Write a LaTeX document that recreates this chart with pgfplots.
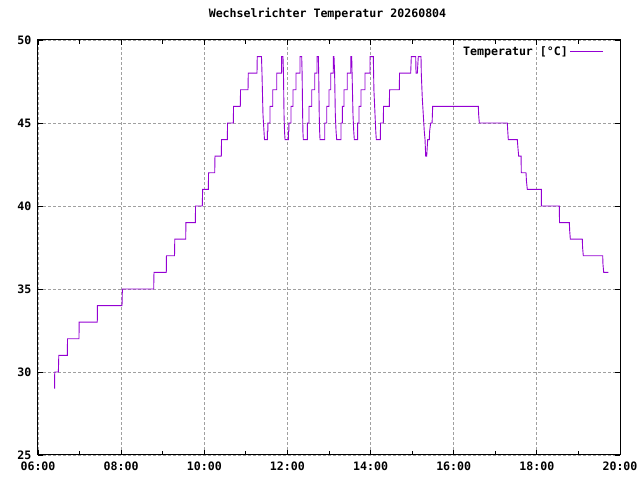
\documentclass[border=0pt]{standalone}
\usepackage{pgfplots}
\pgfplotsset{compat=1.18}
\usepackage{pgfplotstable}
\usepackage{fontspec}
\setmainfont{DejaVu Sans Mono}
\definecolor{gpviolet}{RGB}{148,0,211}
\definecolor{gpgrid}{RGB}{160,160,160}
\pgfplotstableread{
t v
6.400 29
6.402 30
6.490 30
6.500 31
6.705 31
6.710 32
6.986 32
6.990 33
7.426 33
7.430 34
8.021 34
8.030 35
8.783 35
8.790 36
9.086 36
9.090 37
9.284 37
9.290 38
9.553 38
9.558 39
9.784 39
9.790 40
9.952 40
9.960 41
10.097 41
10.103 42
10.251 42
10.257 43
10.409 43
10.415 44
10.554 44
10.560 45
10.698 45
10.704 46
10.866 46
10.872 47
11.052 47
11.058 48
11.268 48
11.274 49
11.376 49
11.388 48
11.412 45.5
11.448 44
11.516 44
11.516 44.5
11.530 44.5
11.530 45
11.581 45
11.581 46
11.646 46
11.646 47
11.742 47
11.742 48
11.862 48
11.862 49
11.893 49
11.905 48
11.918 45.5
11.930 44.5
11.942 44
12.021 44
12.021 44.5
12.035 44.5
12.035 45
12.086 45
12.086 46
12.134 46
12.134 47
12.206 47
12.206 48
12.302 48
12.302 49
12.343 49
12.353 48
12.363 46
12.372 44.5
12.382 44
12.478 44
12.478 45
12.519 45
12.519 46
12.584 46
12.584 47
12.656 47
12.656 48
12.711 48
12.711 49
12.743 49
12.752 48
12.765 45.5
12.775 44.5
12.784 44
12.897 44
12.897 45
12.945 45
12.945 46
13.000 46
13.000 47
13.041 47
13.041 48
13.103 48
13.103 49
13.120 49
13.135 48
13.152 45.5
13.170 44.5
13.185 44
13.289 44
13.289 45
13.320 45
13.320 46
13.361 46
13.361 47
13.440 47
13.440 48
13.522 48
13.522 49
13.546 49
13.555 48
13.577 45.5
13.595 44.5
13.609 44
13.690 44
13.690 45
13.722 45
13.722 46
13.770 46
13.770 47
13.866 47
13.866 48
13.986 48
13.986 49
14.066 49
14.080 47
14.107 45.5
14.125 44.5
14.138 44
14.234 44
14.240 45
14.306 45
14.312 46
14.451 46
14.457 47
14.691 47
14.697 48
14.965 48
14.980 49
15.086 49
15.093 48
15.124 48
15.148 49
15.213 49
15.220 48
15.244 46.5
15.268 45.5
15.292 44.5
15.310 44
15.326 43
15.350 43
15.362 43.5
15.374 44
15.413 44
15.420 44.5
15.446 45
15.480 45
15.494 46
16.592 46
16.600 45.5
16.616 45
17.289 45
17.300 44.5
17.313 44
17.530 44
17.545 43.5
17.563 43
17.620 43
17.626 42
17.739 42
17.750 41.5
17.770 41
18.107 41
18.110 40
18.540 40
18.545 39
18.781 39
18.790 38.5
18.805 38
19.093 38
19.100 37.5
19.117 37
19.584 37
19.590 36.5
19.608 36
19.719 36
}\tempdata
\begin{document}
\begin{tikzpicture}
\begin{axis}[
  name=ax,
  scale only axis, width=582pt, height=415pt,
  xmin=6, xmax=20, ymin=25, ymax=50,
  xtick={6,8,10,12,14,16,18,20},
  xticklabels={06:00,08:00,10:00,12:00,14:00,16:00,18:00,20:00},
  minor xtick={7,9,11,13,15,17,19},
  ytick={25,30,35,40,45,50},
  /pgf/number format/assume math mode=true,
  tick align=inside, major tick length=5pt, minor tick length=4pt,
  tick style={black, line width=0.8pt},
  xmajorgrids, ymajorgrids,
  major grid style={gpgrid, dash pattern=on 3pt off 2pt, line width=0.8pt},
  axis line style={black, line width=1pt},
  font=\bfseries\fontsize{11.6}{13}\selectfont,
  ticklabel style={font=\bfseries\fontsize{11.6}{13}\selectfont},
  xticklabel style={yshift=-3pt},
  yticklabel style={xshift=-3pt},
  title={Wechselrichter Temperatur 20260804},
  title style={at={(0.5,1)}, anchor=center, yshift=20pt, xshift=-1.5pt, font=\bfseries\fontsize{11.6}{13}\selectfont},
  legend style={at={(1,1)}, anchor=north east, draw=none, fill=none, xshift=-13pt, yshift=-2pt, font=\bfseries\fontsize{11.6}{13}\selectfont},
  legend cell align=right,
  legend plot pos=right,
  legend image code/.code={\draw[#1] (0pt,0pt) -- (33pt,0pt);},
]
\addplot[gpviolet, line width=0.9pt, mark=none] table[x=t, y=v] {\tempdata};
\addlegendentry{Temperatur [°C]}
\end{axis}
\pgfresetboundingbox
\path ([shift={(-38pt,-25pt)}]ax.south west) rectangle ([shift={(20pt,40pt)}]ax.north east);
\end{tikzpicture}
\end{document}
